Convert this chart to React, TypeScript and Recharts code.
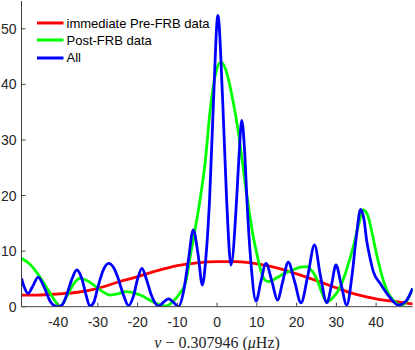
import React from 'react';
import { LineChart, Line, XAxis, YAxis, Legend } from 'recharts';

// red: immediate pre-FRB data
const preX = [-49.2, -45, -40, -35, -30, -25, -20, -15, -10, -5, 0, 5, 10, 15, 20, 25, 30, 35, 40, 45, 49.2];
const preY = [2.1, 2.1, 2.3, 2.6, 3.3, 4.4, 5.4, 6.5, 7.4, 7.9, 8.1, 8.1, 7.7, 7.0, 5.9, 4.7, 3.4, 2.2, 1.4, 0.9, 0.5];

// green: post-FRB data
const postX = [-49.2, -47, -45, -43, -41, -39.5, -37.5, -36, -34.5, -33, -31, -29, -27, -25, -23, -21, -19, -17, -15, -13, -11, -9.5, -8, -6.4, -4.3, -3, -1.8, -0.5, 0.9, 2, 3, 4, 5, 6, 7, 8, 9, 10, 11, 12, 13, 15, 17, 19, 21, 22.5, 24, 25, 26, 27.6, 29, 31, 32.5, 34.5, 35.5, 36.8, 38, 39, 40, 41, 42, 43, 44.5, 46.4, 48, 49.2];
const postY = [8.7, 7.6, 5.8, 3.6, 1.3, 0.1, 2.3, 4.2, 5.1, 4.8, 3.9, 2.8, 2.1, 2.3, 2.7, 2.5, 2.0, 1.2, 0.5, 0.1, 1.0, 2.3, 4.2, 10.5, 19.2, 26, 35, 41.5, 44, 43, 40.5, 37, 33, 28, 22.5, 17.5, 13, 9.5, 6.5, 4.8, 4.5, 5.2, 6.0, 6.6, 7.1, 7.2, 6.3, 5.1, 3.2, 0.9, 1.5, 3.6, 6.5, 11.5, 14.5, 17.4, 16.2, 13.2, 9.8, 6.8, 4.3, 2.5, 1.0, 0.3, 1.4, 3.3];

// blue: all data
const allX = [-49.2, -48.5, -47.5, -46.5, -45, -43.5, -42, -41, -40, -39, -38, -36.5, -35.3, -34, -33, -32, -31, -30, -28.5, -27.3, -26, -25, -23.5, -22.3, -21, -20, -18.9, -17.8, -16.5, -14.7, -13.5, -12.2, -11, -9.7, -8.5, -7.2, -6, -4.8, -3.7, -2.8, -1.9, -0.9, 0.2, 1.4, 2.4, 3.5, 4.9, 5.5, 6.2, 7, 7.5, 8.5, 9.8, 11, 12.3, 13.8, 15.2, 16.5, 17.9, 19.5, 21.1, 22.8, 24.5, 26, 27.6, 28.8, 29.9, 31.2, 32.6, 34, 35, 36.1, 37, 37.6, 38.4, 39.3, 41, 43, 45.6, 47.5, 49.2];
const allY = [5.1, 3.5, 2.4, 3.5, 5.3, 3.5, 1.0, 0.2, 0, 0.3, 1.8, 5.0, 6.6, 5.0, 2.2, 0.1, 0.8, 3.5, 6.8, 7.8, 7.0, 5.3, 2.0, 0.2, 2.0, 5.0, 6.9, 5.0, 2.0, 0.1, 0.8, 1.4, 0.8, 0, 2.5, 8.5, 13.8, 9.5, 3.9, 9, 19.2, 37.1, 52.4, 37.1, 19.2, 7.5, 19.2, 27, 33.5, 27, 19.2, 8, 1.0, 4.5, 7.8, 4.5, 1.2, 4.5, 8.0, 4.5, 0.7, 5.5, 11.1, 5.5, 0.7, 4, 7.5, 4, 0.3, 6, 12.5, 17.5, 15.5, 12, 9, 6.3, 4.2, 2.1, 0.3, 1.0, 3.3];

const seriesNames = ['immediate Pre-FRB data', 'Post-FRB data', 'All'];
const xTicks = [-40, -30, -20, -10, 0, 10, 20, 30, 40];
const yTicks = [0, 10, 20, 30, 40, 50];

const toPoints = (xs: number[], ys: number[]) => xs.map((x, i) => ({ x, y: ys[i] }));

const AXIS_COLOR = '#404040';
const TICK_FONT = 'Liberation Sans, Arial, sans-serif';

const AxisTick = (props: any) => {
  const { x, y, payload, side } = props;
  if (side === 'bottom') {
    return (
      <g>
        <line x1={x} y1={y} x2={x} y2={y - 4} stroke={AXIS_COLOR} />
        <text x={x} y={y + 20} textAnchor="middle" fontSize={14} fontFamily={TICK_FONT} fill="#262626">
          {payload.value}
        </text>
      </g>
    );
  }
  if (side === 'left') {
    return (
      <g>
        <line x1={x} y1={y} x2={x + 4} y2={y} stroke={AXIS_COLOR} />
        <text x={x - 5} y={y + 5} textAnchor="end" fontSize={14} fontFamily={TICK_FONT} fill="#262626">
          {payload.value}
        </text>
      </g>
    );
  }
  if (side === 'top') return <line x1={x} y1={y} x2={x} y2={y + 4} stroke={AXIS_COLOR} />;
  return <line x1={x} y1={y} x2={x - 4} y2={y} stroke={AXIS_COLOR} />;
};

const XLabel = (props: any) => {
  const { viewBox } = props;
  const cx = viewBox.x + viewBox.width / 2;
  return (
    <text x={cx} y={viewBox.y + 41} textAnchor="middle" fontSize={16} fontFamily="Liberation Serif, serif" fill="#262626">
      <tspan fontStyle="italic">ν</tspan>
      <tspan> − 0.307946 (</tspan>
      <tspan fontStyle="italic">μ</tspan>
      <tspan>Hz)</tspan>
    </text>
  );
};

const LegendBox = (props: any) => {
  const { payload } = props;
  const items = seriesNames.map((n) => payload.find((p: any) => p.value === n)).filter(Boolean);
  return (
    <div>
      {items.map((p: any) => (
        <div key={p.value} style={{ display: 'flex', alignItems: 'center', height: 17.3 }}>
          <svg width={30} height={6}>
            <line x1={0} y1={3} x2={26.5} y2={3} stroke={p.color} strokeWidth={3} />
          </svg>
          <span style={{ fontFamily: TICK_FONT, fontSize: 13, color: '#000', whiteSpace: 'nowrap' }}>{p.value}</span>
        </div>
      ))}
    </div>
  );
};

export default function App() {
  return (
    <div style={{ position: 'absolute', left: 0, top: 0, width: 415, height: 350, background: '#fff' }}>
      <LineChart width={415} height={350} margin={{ top: 1, right: 2.3, bottom: 0, left: 0 }}>
        <XAxis
          xAxisId="bottom"
          type="number"
          dataKey="x"
          domain={[-49.2, 49.2]}
          allowDataOverflow
          ticks={xTicks}
          interval={0}
          height={43.3}
          tickSize={0}
          tickMargin={0}
          tickLine={false}
          axisLine={{ stroke: AXIS_COLOR }}
          tick={<AxisTick side="bottom" />}
          label={<XLabel />}
        />
        <XAxis
          xAxisId="top"
          orientation="top"
          type="number"
          dataKey="x"
          domain={[-49.2, 49.2]}
          allowDataOverflow
          ticks={xTicks}
          interval={0}
          height={0}
          tickSize={0}
          tickMargin={0}
          tickLine={false}
          axisLine={{ stroke: AXIS_COLOR }}
          tick={<AxisTick side="top" />}
        />
        <YAxis
          yAxisId="left"
          type="number"
          domain={[0, 55]}
          allowDataOverflow
          ticks={yTicks}
          interval={0}
          width={21.5}
          tickSize={0}
          tickMargin={0}
          tickLine={false}
          axisLine={{ stroke: AXIS_COLOR }}
          tick={<AxisTick side="left" />}
        />
        <YAxis
          yAxisId="right"
          orientation="right"
          type="number"
          domain={[0, 55]}
          allowDataOverflow
          ticks={yTicks}
          interval={0}
          width={0}
          tickSize={0}
          tickMargin={0}
          tickLine={false}
          axisLine={{ stroke: AXIS_COLOR }}
          tick={<AxisTick side="right" />}
        />
        <Legend
          layout="vertical"
          align="center"
          verticalAlign="middle"
          wrapperStyle={{ left: 36.5, top: 14.5, width: 200 }}
          content={<LegendBox />}
        />
        <Line
          xAxisId="bottom"
          yAxisId="left"
          name={seriesNames[0]}
          data={toPoints(preX, preY)}
          dataKey="y"
          type="monotone"
          stroke="#ff0000"
          strokeWidth={2.8}
          dot={false}
          isAnimationActive={false}
        />
        <Line
          xAxisId="bottom"
          yAxisId="left"
          name={seriesNames[1]}
          data={toPoints(postX, postY)}
          dataKey="y"
          type="monotone"
          stroke="#00ff00"
          strokeWidth={2.8}
          dot={false}
          isAnimationActive={false}
        />
        <Line
          xAxisId="bottom"
          yAxisId="left"
          name={seriesNames[2]}
          data={toPoints(allX, allY)}
          dataKey="y"
          type="monotone"
          stroke="#0000ff"
          strokeWidth={2.8}
          dot={false}
          isAnimationActive={false}
        />
      </LineChart>
    </div>
  );
}
